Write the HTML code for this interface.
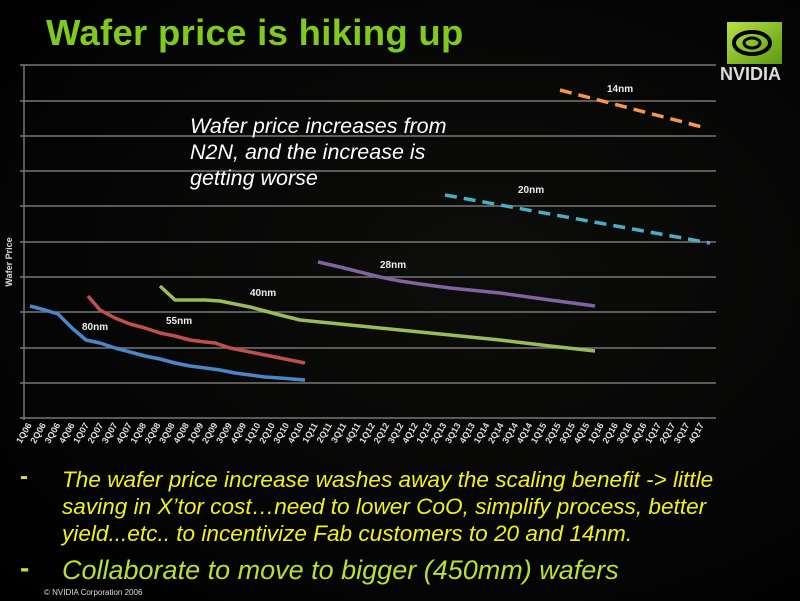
<!DOCTYPE html>
<html><head><meta charset="utf-8"><style>
html,body{margin:0;padding:0;background:#000;}
#c{position:relative;width:800px;height:601px;overflow:hidden;background:radial-gradient(ellipse at 60% 45%,#0d0d0b 0%,#050505 60%,#000 100%);font-family:"Liberation Sans",sans-serif;}
.t{position:absolute;white-space:nowrap}
</style></head><body><div id="c">
<div class="t" style="left:46px;top:12px;font-size:36.5px;font-weight:bold;color:#7ecb1e;letter-spacing:0.3px">Wafer price is hiking up</div>
<svg style="position:absolute;left:0;top:0" width="800" height="601">
<defs><linearGradient id="g" x1="0" x2="1" y1="0" y2="1"><stop offset="0" stop-color="#b8e04a"/><stop offset="1" stop-color="#5a9a10"/></linearGradient></defs>
<rect x="727" y="22" width="55" height="42" fill="url(#g)"/>
<ellipse cx="752" cy="43" rx="18" ry="11" fill="none" stroke="#000" stroke-width="4"/>
<ellipse cx="752" cy="43" rx="8" ry="5" fill="none" stroke="#000" stroke-width="3"/>
<line x1="680" y1="65" x2="712" y2="65" stroke="#888" stroke-width="1"/>
<text x="720" y="80" font-family="Liberation Sans" font-weight="bold" font-size="18" fill="#ddd">NVIDIA</text>
<g stroke="#777" stroke-width="1.5">
<line x1="20" y1="65" x2="716" y2="65"/><line x1="20" y1="101" x2="716" y2="101"/><line x1="20" y1="136" x2="716" y2="136"/><line x1="20" y1="171" x2="716" y2="171"/><line x1="20" y1="206" x2="716" y2="206"/><line x1="20" y1="242" x2="716" y2="242"/><line x1="20" y1="277" x2="716" y2="277"/><line x1="20" y1="312" x2="716" y2="312"/><line x1="20" y1="348" x2="716" y2="348"/><line x1="20" y1="383" x2="716" y2="383"/><line x1="20" y1="418" x2="716" y2="418"/>
<line x1="24" y1="65" x2="24" y2="420"/>
</g>
<text transform="translate(12,262) rotate(-90)" text-anchor="middle" font-size="9" font-weight="bold" fill="#ddd">Wafer Price</text>
<g fill="none" stroke-width="3.5" stroke-linejoin="round">
<polyline stroke="#4a86c8" points="30,306 45,310 58,314 72,328 86,340 100,343 115,348 130,352 145,356 160,359 175,363 190,366 205,368 220,370 235,373 250,375 265,377 280,378 305,380"/>
<polyline stroke="#c0504d" points="88,296 100,310 115,318 130,324 145,328 160,333 175,336 190,340 205,342 215,343 230,348 250,352 270,356 290,360 305,363"/>
<polyline stroke="#9bbb59" points="160,286 175,300 190,300 205,300 220,301 235,304 250,307 265,311 280,315 300,320 320,322 360,326 400,330 450,335 500,340 550,346 595,351"/>
<polyline stroke="#8064a2" points="318,262 340,267 360,272 380,277 400,281 420,284 450,288 500,293 550,300 595,306"/>
<line stroke="#4bacc6" stroke-dasharray="12,7" x1="445" y1="195" x2="710" y2="243"/>
<line stroke="#f79646" stroke-dasharray="12,7" x1="560" y1="90" x2="706" y2="128"/>
</g>
<g font-size="10" font-weight="bold" fill="#eee">
<text x="82" y="330">80nm</text><text x="166" y="324">55nm</text><text x="250" y="296">40nm</text><text x="380" y="268">28nm</text><text x="518" y="193">20nm</text><text x="607" y="92">14nm</text>
</g>
<g id="xl" font-size="9" font-weight="bold" fill="#ddd"></g>
</svg>
<div class="t" style="left:190px;top:113px;font-size:21.5px;font-style:italic;color:#fff;line-height:26px">Wafer price increases from<br>N2N, and the increase is<br>getting worse</div>
<div class="t" style="left:20px;top:463px;font-size:24px;font-weight:bold;color:#e0e040">-</div>
<div class="t" style="left:62px;top:466px;font-size:22.6px;font-style:italic;color:#f0f020;line-height:27px">The wafer price increase washes away the scaling benefit -&gt; little<br>saving in X’tor cost…need to lower CoO, simplify process, better<br>yield...etc.. to incentivize Fab customers to 20 and 14nm.</div>
<div class="t" style="left:20px;top:552px;font-size:28px;font-weight:bold;color:#b8e040">-</div>
<div class="t" style="left:62px;top:555px;font-size:27px;font-style:italic;color:#b8e030">Collaborate to move to bigger (450mm) wafers</div>
<div class="t" style="left:44px;top:588px;font-size:8px;color:#ddd">© NVIDIA Corporation 2006</div>
</div>
<script>
var g=document.getElementById('xl'),s='';
for(var i=0;i<48;i++){var y=6+Math.floor(i/4),q=i%4+1;var lab=q+'Q'+(y<10?'0':'')+y;var x=32+i*14.3;
s+='<text transform="translate('+x+',425) rotate(-60)" text-anchor="end">'+lab+'</text>';}
g.innerHTML=s;
</script>
</body></html>
